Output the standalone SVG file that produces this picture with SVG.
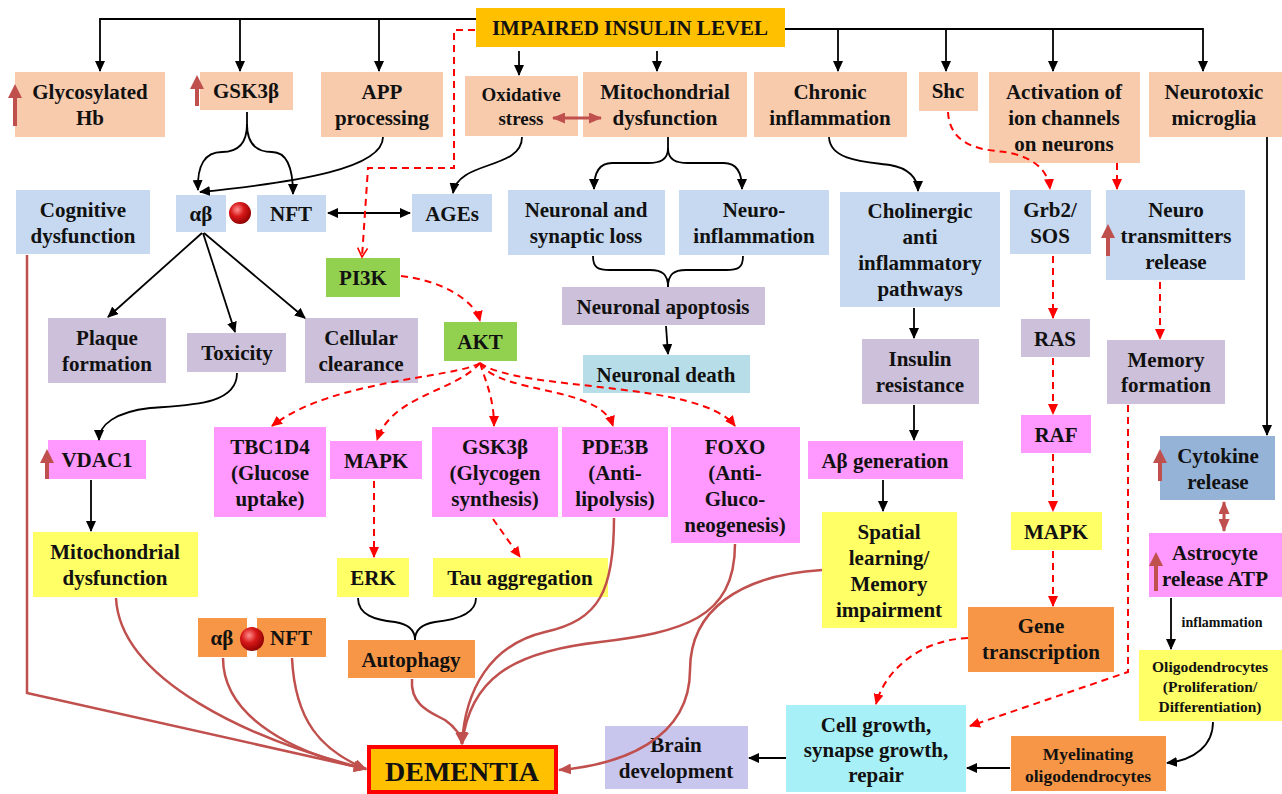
<svg xmlns="http://www.w3.org/2000/svg" width="1282" height="794" viewBox="0 0 1282 794">
<defs>
<style>
.t{font-family:"Liberation Serif","Times New Roman",serif;font-weight:bold;font-size:21px;fill:#111;text-anchor:middle}
.pe{fill:#F8CBAD}.lb{fill:#C6D9F0}.pu{fill:#CCC0DA}.pk{fill:#FF99FF}.gr{fill:#92D050}.ye{fill:#FFFF66}.or{fill:#F79646}
.k{fill:none;stroke:#000;stroke-width:1.8}
.ka{marker-end:url(#ka)}
.rd{fill:none;stroke:#FF0000;stroke-width:2;stroke-dasharray:7 5}
.ra{marker-end:url(#ra)}
.dr{fill:none;stroke:#C0504D;stroke-width:2.5;marker-end:url(#da)}
.up{stroke:#C0504D;stroke-width:4;marker-end:url(#uh)}
</style>
<marker id="ka" markerUnits="userSpaceOnUse" markerWidth="11" markerHeight="10" refX="10" refY="5" orient="auto-start-reverse"><path d="M0,0 L11,5 L0,10 Z" fill="#000"/></marker>
<marker id="ra" markerUnits="userSpaceOnUse" markerWidth="11" markerHeight="10" refX="10" refY="5" orient="auto"><path d="M0,0 L11,5 L0,10 Z" fill="#FF0000"/></marker>
<marker id="ro" markerUnits="userSpaceOnUse" markerWidth="12" markerHeight="12" refX="10" refY="6" orient="auto"><path d="M1,1 L10,6 L1,11" fill="none" stroke="#FF0000" stroke-width="1.6"/></marker>
<marker id="da" markerUnits="userSpaceOnUse" markerWidth="13" markerHeight="11" refX="12" refY="5.5" orient="auto-start-reverse"><path d="M0,0 L13,5.5 L0,11 Z" fill="#C0504D"/></marker>
<marker id="uh" markerUnits="userSpaceOnUse" markerWidth="14" markerHeight="14" refX="2" refY="7" orient="auto"><path d="M0,0 L14,7 L0,14 Z" fill="#C0504D"/></marker>
<radialGradient id="ball" cx="0.38" cy="0.35" r="0.7">
<stop offset="0" stop-color="#FF9090"/><stop offset="0.45" stop-color="#D81818"/><stop offset="1" stop-color="#8A0000"/>
</radialGradient>
</defs>
<rect width="1282" height="794" fill="#FFFFFF"/>

<g id="n-title"><rect x="476" y="8" width="309" height="39" fill="#FFC000"/><text class="t" x="630" y="35">IMPAIRED INSULIN LEVEL</text></g>
<g id="n-glyco"><rect class="pe" x="15" y="72" width="150" height="65"/><text class="t" x="90" y="99">Glycosylated</text><text class="t" x="90" y="125">Hb</text><line class="up" x1="15" y1="126" x2="15" y2="96"/></g>
<g id="n-gsk1"><rect class="pe" x="200" y="72" width="93" height="38"/><text class="t" x="246" y="98">GSK3β</text><line class="up" x1="197" y1="106" x2="197" y2="87"/></g>
<g id="n-app"><rect class="pe" x="321" y="72" width="122" height="65"/><text class="t" x="382" y="99">APP</text><text class="t" x="382" y="125">processing</text></g>
<g id="n-ox"><rect class="pe" x="465" y="76" width="113" height="60"/><text class="t" x="521" y="101" style="font-size:19px">Oxidative</text><text class="t" x="521" y="125" style="font-size:19px">stress</text></g>
<g id="n-mito"><rect class="pe" x="583" y="72" width="164" height="65"/><text class="t" x="665" y="99">Mitochondrial</text><text class="t" x="665" y="125">dysfunction</text></g>
<g id="n-chronic"><rect class="pe" x="754" y="72" width="153" height="65"/><text class="t" x="830" y="99">Chronic</text><text class="t" x="830" y="125">inflammation</text></g>
<g id="n-shc"><rect class="pe" x="919" y="72" width="59" height="39"/><text class="t" x="948" y="98">Shc</text></g>
<g id="n-act"><rect class="pe" x="989" y="72" width="151" height="91"/><text class="t" x="1064" y="99">Activation of</text><text class="t" x="1064" y="125">ion channels</text><text class="t" x="1064" y="151">on neurons</text></g>
<g id="n-micro"><rect class="pe" x="1149" y="72" width="133" height="65"/><text class="t" x="1214" y="99">Neurotoxic</text><text class="t" x="1214" y="125">microglia</text></g>

<g id="n-cog"><rect class="lb" x="16" y="190" width="134" height="64"/><text class="t" x="83" y="217">Cognitive</text><text class="t" x="83" y="243">dysfunction</text></g>
<g id="n-ab1"><rect class="lb" x="176" y="195" width="50" height="37"/><text class="t" x="201" y="221">αβ</text><circle cx="240" cy="213" r="11" fill="url(#ball)"/></g>
<g id="n-nft1"><rect class="lb" x="257" y="195" width="69" height="37"/><text class="t" x="291" y="221">NFT</text></g>
<g id="n-ages"><rect class="lb" x="412" y="194" width="80" height="38"/><text class="t" x="452" y="221">AGEs</text></g>
<g id="n-nsl"><rect class="lb" x="508" y="190" width="157" height="65"/><text class="t" x="586" y="217">Neuronal and</text><text class="t" x="586" y="243">synaptic loss</text></g>
<g id="n-ni"><rect class="lb" x="679" y="190" width="150" height="65"/><text class="t" x="754" y="217">Neuro-</text><text class="t" x="754" y="243">inflammation</text></g>
<g id="n-chol"><rect class="lb" x="840" y="192" width="160" height="115"/><text class="t" x="920" y="218">Cholinergic</text><text class="t" x="920" y="244">anti</text><text class="t" x="920" y="270">inflammatory</text><text class="t" x="920" y="296">pathways</text></g>
<g id="n-grb"><rect class="lb" x="1010" y="190" width="81" height="64"/><text class="t" x="1050" y="217">Grb2/</text><text class="t" x="1050" y="243">SOS</text></g>
<g id="n-nt"><rect class="lb" x="1106" y="190" width="139" height="90"/><text class="t" x="1176" y="217">Neuro</text><text class="t" x="1176" y="243">transmitters</text><text class="t" x="1176" y="269">release</text><line class="up" x1="1108" y1="256" x2="1108" y2="236"/></g>

<g id="n-plaque"><rect class="pu" x="48" y="318" width="118" height="65"/><text class="t" x="107" y="345">Plaque</text><text class="t" x="107" y="371">formation</text></g>
<g id="n-tox"><rect class="pu" x="187" y="333" width="99" height="39"/><text class="t" x="237" y="360">Toxicity</text></g>
<g id="n-clear"><rect class="pu" x="305" y="318" width="113" height="65"/><text class="t" x="361" y="345">Cellular</text><text class="t" x="361" y="371">clearance</text></g>
<g id="n-pi3k"><rect class="gr" x="326" y="258" width="74" height="39"/><text class="t" x="363" y="285">PI3K</text></g>
<g id="n-akt"><rect class="gr" x="444" y="322" width="73" height="39"/><text class="t" x="480" y="349">AKT</text></g>
<g id="n-napo"><rect class="pu" x="562" y="287" width="203" height="38"/><text class="t" x="663" y="314">Neuronal apoptosis</text></g>
<g id="n-nd"><rect x="583" y="355" width="167" height="38" fill="#B7DEE8"/><text class="t" x="666" y="382">Neuronal death</text></g>
<g id="n-ir"><rect class="pu" x="862" y="339" width="117" height="65"/><text class="t" x="920" y="366">Insulin</text><text class="t" x="920" y="392">resistance</text></g>
<g id="n-ras"><rect class="pu" x="1021" y="319" width="69" height="38"/><text class="t" x="1055" y="346">RAS</text></g>
<g id="n-mem"><rect class="pu" x="1107" y="340" width="118" height="64"/><text class="t" x="1166" y="367">Memory</text><text class="t" x="1166" y="392">formation</text></g>

<g id="n-vdac"><rect class="pk" x="48" y="440" width="98" height="39"/><text class="t" x="97" y="467">VDAC1</text><line class="up" x1="47" y1="479" x2="47" y2="461"/></g>
<g id="n-tbc"><rect class="pk" x="214" y="427" width="112" height="90"/><text class="t" x="270" y="454">TBC1D4</text><text class="t" x="270" y="480">(Glucose</text><text class="t" x="270" y="506">uptake)</text></g>
<g id="n-mapk1"><rect class="pk" x="330" y="441" width="92" height="38"/><text class="t" x="376" y="468">MAPK</text></g>
<g id="n-gsk2"><rect class="pk" x="432" y="427" width="126" height="90"/><text class="t" x="495" y="454">GSK3β</text><text class="t" x="495" y="480">(Glycogen</text><text class="t" x="495" y="506">synthesis)</text></g>
<g id="n-pde"><rect class="pk" x="562" y="427" width="106" height="90"/><text class="t" x="615" y="454">PDE3B</text><text class="t" x="615" y="480">(Anti-</text><text class="t" x="615" y="506">lipolysis)</text></g>
<g id="n-foxo"><rect class="pk" x="671" y="427" width="129" height="116"/><text class="t" x="735" y="454">FOXO</text><text class="t" x="735" y="480">(Anti-</text><text class="t" x="735" y="506">Gluco-</text><text class="t" x="735" y="532">neogenesis)</text></g>
<g id="n-abg"><rect class="pk" x="808" y="441" width="155" height="38"/><text class="t" x="885" y="468">Aβ generation</text></g>
<g id="n-raf"><rect class="pk" x="1021" y="415" width="70" height="38"/><text class="t" x="1056" y="442">RAF</text></g>
<g id="n-cyto"><rect x="1160" y="436" width="115" height="64" fill="#95B3D7"/><text class="t" x="1218" y="463">Cytokine</text><text class="t" x="1218" y="489">release</text><line class="up" x1="1160" y1="481" x2="1160" y2="461"/></g>

<g id="n-mito2"><rect class="ye" x="33" y="532" width="165" height="65"/><text class="t" x="115" y="559">Mitochondrial</text><text class="t" x="115" y="585">dysfunction</text></g>
<g id="n-spatial"><rect class="ye" x="822" y="512" width="135" height="116"/><text class="t" x="889" y="539">Spatial</text><text class="t" x="889" y="565">learning/</text><text class="t" x="889" y="591">Memory</text><text class="t" x="889" y="617">impairment</text></g>
<g id="n-mapk2"><rect class="ye" x="1011" y="512" width="91" height="38"/><text class="t" x="1056" y="539">MAPK</text></g>
<g id="n-astro"><rect class="pk" x="1149" y="533" width="133" height="64"/><text class="t" x="1215" y="560">Astrocyte</text><text class="t" x="1215" y="586">release ATP</text><line class="up" x1="1156" y1="591" x2="1156" y2="564"/></g>
<g id="n-erk"><rect class="ye" x="337" y="558" width="72" height="39"/><text class="t" x="373" y="585">ERK</text></g>
<g id="n-tau"><rect class="ye" x="433" y="558" width="175" height="39"/><text class="t" x="520" y="585">Tau aggregation</text></g>
<g id="n-ab2"><rect class="or" x="198" y="618" width="49" height="39"/><text class="t" x="222" y="645">αβ</text></g>
<g id="n-nft2"><rect class="or" x="257" y="618" width="69" height="39"/><text class="t" x="291" y="645">NFT</text><circle cx="252" cy="639" r="12" fill="url(#ball)"/></g>
<g id="n-auto"><rect class="or" x="348" y="640" width="127" height="38"/><text class="t" x="411" y="667">Autophagy</text></g>
<g id="n-gene"><rect class="or" x="968" y="607" width="146" height="65"/><text class="t" x="1041" y="633">Gene</text><text class="t" x="1041" y="659">transcription</text></g>
<g id="n-oligo"><rect class="ye" x="1139" y="650" width="143" height="71"/><text class="t" x="1210" y="672" style="font-size:15.5px">Oligodendrocytes</text><text class="t" x="1210" y="692" style="font-size:15.5px">(Proliferation/</text><text class="t" x="1210" y="712" style="font-size:15.5px">Differentiation)</text></g>
<g id="n-myel"><rect class="or" x="1011" y="736" width="155" height="55"/><text class="t" x="1088" y="760" style="font-size:17.5px">Myelinating</text><text class="t" x="1088" y="782" style="font-size:17.5px">oligodendrocytes</text></g>
<g id="n-cell"><rect x="786" y="705" width="180" height="87" fill="#A8F0F7"/><text class="t" x="876" y="732">Cell growth,</text><text class="t" x="876" y="757">synapse growth,</text><text class="t" x="876" y="782">repair</text></g>
<g id="n-brain"><rect x="605" y="726" width="143" height="63" fill="#C9C6EE"/><text class="t" x="676" y="752">Brain</text><text class="t" x="676" y="778">development</text></g>
<g id="n-dementia"><rect x="369" y="747" width="187" height="45" fill="#FFC000" stroke="#FF0000" stroke-width="4"/><text class="t" x="462" y="781" style="font-size:28px">DEMENTIA</text></g>

<g id="connectors">
<path class="k ka" d="M476,19 H100 V71"/>
<path class="k ka" d="M240,19 V71"/>
<path class="k ka" d="M379,19 V71"/>
<path class="k ka" d="M785,29 H1203 V71"/>
<path class="k ka" d="M838,29 V71"/>
<path class="k ka" d="M946,29 V71"/>
<path class="k ka" d="M1053,29 V71"/>
<path class="k ka" d="M519,51 V75"/>
<path class="k ka" d="M657,51 V71"/>
<path class="k ka" d="M247,112 V124 C247,145 236,152 222,152 C205,152 197,165 198,190"/>
<path class="k ka" d="M247,124 C247,145 258,152 272,152 C287,152 293,168 293,194"/>
<path class="k ka" d="M383,137 C383,168 300,182 200,192"/>
<path class="k ka" d="M522,137 C522,170 458,160 453,193"/>
<path class="k ka" d="M668,137 V148 C668,160 660,163 648,163 L612,163 C600,163 594,172 594,189"/>
<path class="k ka" d="M668,148 C668,160 676,163 688,163 L724,163 C736,163 742,172 742,189"/>
<path class="k" d="M593,256 C593,268 598,270 610,270 L650,270 C662,270 668,274 668,287"/>
<path class="k" d="M743,256 C743,268 738,270 726,270 L686,270 C674,270 668,274 668,287"/>
<path class="k ka" d="M829,137 C830,162 870,162 890,165 C908,168 918,178 918,191"/>
<path class="k" d="M328,213 H410" marker-start="url(#ka)" marker-end="url(#ka)"/>
<path class="k ka" d="M202,233 L108,317"/>
<path class="k ka" d="M203,233 L235,332"/>
<path class="k ka" d="M204,233 L305,318"/>
<path class="k ka" d="M237,373 C237,405 190,405 150,408 C115,412 99,425 99,440"/>
<path class="k ka" d="M91,480 V531"/>
<path class="k ka" d="M666,326 L668,354"/>
<path class="k ka" d="M914,308 V338"/>
<path class="k ka" d="M914,405 V440"/>
<path class="k ka" d="M883,480 V511"/>
<path class="k ka" d="M1267,137 V435"/>
<path class="k ka" d="M1171,598 V649"/>
<path class="k ka" d="M1213,722 C1213,745 1195,760 1167,763"/>
<path class="k ka" d="M1010,768 H967"/>
<path class="k ka" d="M786,758 H749"/>
<path class="k" d="M358,598 C358,615 375,620 395,622 C408,624 415,630 415,640"/>
<path class="k" d="M476,598 C476,615 455,620 435,622 C422,624 415,630 415,640"/>
<text class="t" x="1222" y="627" style="font-size:14px">inflammation</text>

<path class="rd" d="M475,30 H454 V168 H368 L362,257" marker-end="url(#ro)"/>
<path class="rd ra" d="M401,276 C440,280 475,300 480,321"/>
<path class="rd ra" d="M480,363 C455,378 330,380 272,426"/>
<path class="rd ra" d="M480,363 C455,392 392,395 377,440"/>
<path class="rd ra" d="M480,363 C487,385 494,400 494,426"/>
<path class="rd ra" d="M480,363 C500,395 600,385 613,426"/>
<path class="rd ra" d="M480,363 C520,392 700,380 735,426"/>
<path class="rd ra" d="M374,481 V557"/>
<path class="rd ra" d="M493,519 L520,557"/>
<path class="rd ra" d="M948,112 C950,150 990,150 1005,152 C1030,156 1048,168 1050,189"/>
<path class="rd ra" d="M1117,163 V189"/>
<path class="rd ra" d="M1053,256 V318"/>
<path class="rd ra" d="M1053,358 V414"/>
<path class="rd ra" d="M1053,454 V511"/>
<path class="rd ra" d="M1053,551 V606"/>
<path class="rd ra" d="M1160,282 V339"/>
<path class="rd ra" d="M1128,405 V672 L970,726"/>
<path class="rd ra" d="M968,638 C920,640 885,670 876,704"/>

<path class="dr" d="M27,255 V693 L366,769"/>
<path class="dr" d="M116,598 C120,680 250,740 366,769"/>
<path class="dr" d="M223,658 C223,720 300,755 366,769"/>
<path class="dr" d="M292,658 C295,720 320,750 366,769"/>
<path class="dr" d="M412,679 C410,705 430,712 445,720 C455,727 461,735 462,744"/>
<path class="dr" d="M614,518 C614,590 600,620 545,632 C490,645 465,690 462,744"/>
<path class="dr" d="M735,544 C735,620 680,632 600,642 C510,652 470,680 462,744"/>
<path class="dr" d="M822,570 C740,575 690,610 690,670 C690,740 620,765 559,770"/>
<path class="dr" d="M553,118 H601" marker-start="url(#da)" style="stroke-width:3"/>
<path class="dr" d="M1224,502 V531" marker-start="url(#da)" style="stroke-width:3"/>
</g>
</svg>
